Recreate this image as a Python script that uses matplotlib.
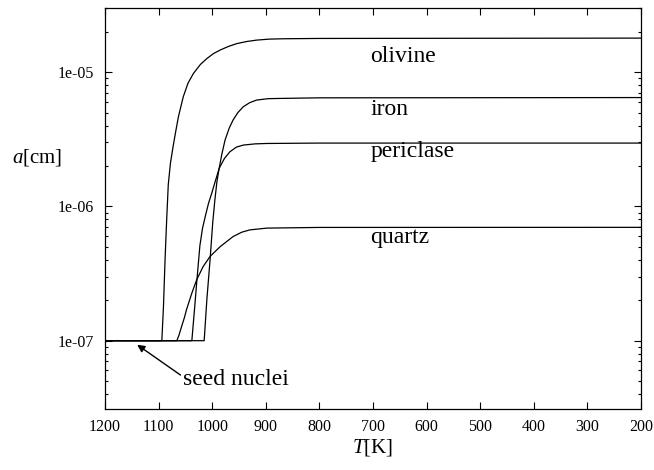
import numpy as np
import matplotlib
matplotlib.use("Agg")
import matplotlib.pyplot as plt
from matplotlib.ticker import FixedLocator, FuncFormatter, LogLocator, NullFormatter

plt.rcParams['font.family'] = ['Liberation Serif', 'DejaVu Serif']
plt.rcParams['mathtext.fontset'] = 'custom'
plt.rcParams['mathtext.it'] = 'Liberation Serif:italic'
plt.rcParams['mathtext.rm'] = 'Liberation Serif'

# temperature [K] and grain radius [cm]
olivine_T = [1200, 1094, 1091, 1088, 1085, 1082, 1078, 1073, 1068, 1063, 1054, 1045,
             1035, 1022, 1010, 998, 985, 970, 954, 935, 917, 893, 867, 800, 200]
olivine_a = [1.0e-7, 1.0e-7, 1.78e-7, 4.0e-7, 7.9e-7, 1.45e-6, 2.09e-6, 2.79e-6, 3.63e-6,
             4.66e-6, 6.55e-6, 8.3e-6, 9.77e-6, 1.14e-5, 1.26e-5, 1.37e-5, 1.46e-5,
             1.55e-5, 1.63e-5, 1.69e-5, 1.73e-5, 1.76e-5, 1.77e-5, 1.78e-5, 1.79e-5]

iron_T = [1200, 1015, 1010, 1004, 999, 995, 991, 987, 982, 976, 968, 961, 952, 942,
          930, 917, 895, 867, 800, 200]
iron_a = [1.0e-7, 1.0e-7, 2.02e-7, 4.0e-7, 7.6e-7, 1.12e-6, 1.55e-6, 1.92e-6, 2.45e-6,
          3.12e-6, 3.85e-6, 4.40e-6, 5.0e-6, 5.52e-6, 5.92e-6, 6.19e-6, 6.34e-6,
          6.37e-6, 6.43e-6, 6.46e-6]

periclase_T = [1200, 1038, 1033, 1029, 1023, 1018, 1013, 1007, 1001, 994, 987, 977,
               967, 955, 942, 920, 898, 800, 200]
periclase_a = [1.0e-7, 1.0e-7, 1.72e-7, 2.69e-7, 5.1e-7, 6.9e-7, 8.4e-7, 1.05e-6,
               1.25e-6, 1.55e-6, 1.92e-6, 2.28e-6, 2.55e-6, 2.76e-6, 2.86e-6, 2.92e-6,
               2.94e-6, 2.96e-6, 2.96e-6]

quartz_T = [1200, 1066, 1062, 1057, 1052, 1048, 1043, 1038, 1029, 1017, 1004, 985,
            961, 945, 930, 898, 800, 200]
quartz_a = [1.0e-7, 1.0e-7, 1.10e-7, 1.28e-7, 1.48e-7, 1.70e-7, 1.96e-7, 2.26e-7,
            2.84e-7, 3.56e-7, 4.24e-7, 5.02e-7, 5.96e-7, 6.42e-7, 6.68e-7, 6.89e-7,
            6.97e-7, 6.98e-7]

curves = [("olivine", olivine_T, olivine_a, 705, 1.19e-5),
          ("iron", iron_T, iron_a, 705, 4.79e-6),
          ("periclase", periclase_T, periclase_a, 705, 2.34e-6),
          ("quartz", quartz_T, quartz_a, 705, 5.36e-7)]

x_ticks = [1200, 1100, 1000, 900, 800, 700, 600, 500, 400, 300, 200]
y_ticks = [1e-7, 1e-6, 1e-5]


def main():
    fig = plt.figure(figsize=(6.54, 4.70), dpi=100)
    ax = fig.add_axes([0.1606, 0.1298, 0.8194, 0.8532])

    for name, T, a, tx, ty in curves:
        ax.plot(T, a, color='black', lw=0.9)
        ax.text(tx, ty, name, fontsize=17, ha='left', va='baseline')

    ax.set_yscale('log')
    ax.set_xlim(1200, 200)
    ax.set_ylim(3.1e-8, 3.0e-5)

    ax.xaxis.set_major_locator(FixedLocator(x_ticks))
    ax.yaxis.set_major_locator(FixedLocator(y_ticks))
    ax.yaxis.set_minor_locator(LogLocator(base=10, subs=np.arange(2, 10)))
    ax.yaxis.set_minor_formatter(NullFormatter())
    ax.yaxis.set_major_formatter(FuncFormatter(lambda v, p: "%.0e" % v))

    ax.tick_params(which='both', direction='in', top=True, right=True, width=0.8)
    ax.tick_params(which='major', length=5, labelsize=11.5)
    ax.tick_params(axis='x', which='major', pad=7)
    ax.tick_params(axis='y', which='major', pad=8)
    ax.tick_params(which='minor', length=2.5)
    for s in ax.spines.values():
        s.set_linewidth(0.9)

    ax.annotate("seed nuclei", xy=(1140, 9.33e-8), xytext=(1054, 4.71e-8),
                fontsize=17, ha='left', va='baseline',
                arrowprops=dict(arrowstyle='-|>', color='black', lw=1.0,
                                mutation_scale=11, shrinkA=0, shrinkB=0,
                                relpos=(0, 0.6)))

    fig.text(37 / 654, 1 - 157 / 470, r"$a$[cm]", fontsize=15, ha='center', va='center')
    ax.set_xlabel(r"$T$[K]", fontsize=15, labelpad=2)

    plt.savefig("out.png", dpi=100)


if __name__ == '__main__':
    main()
